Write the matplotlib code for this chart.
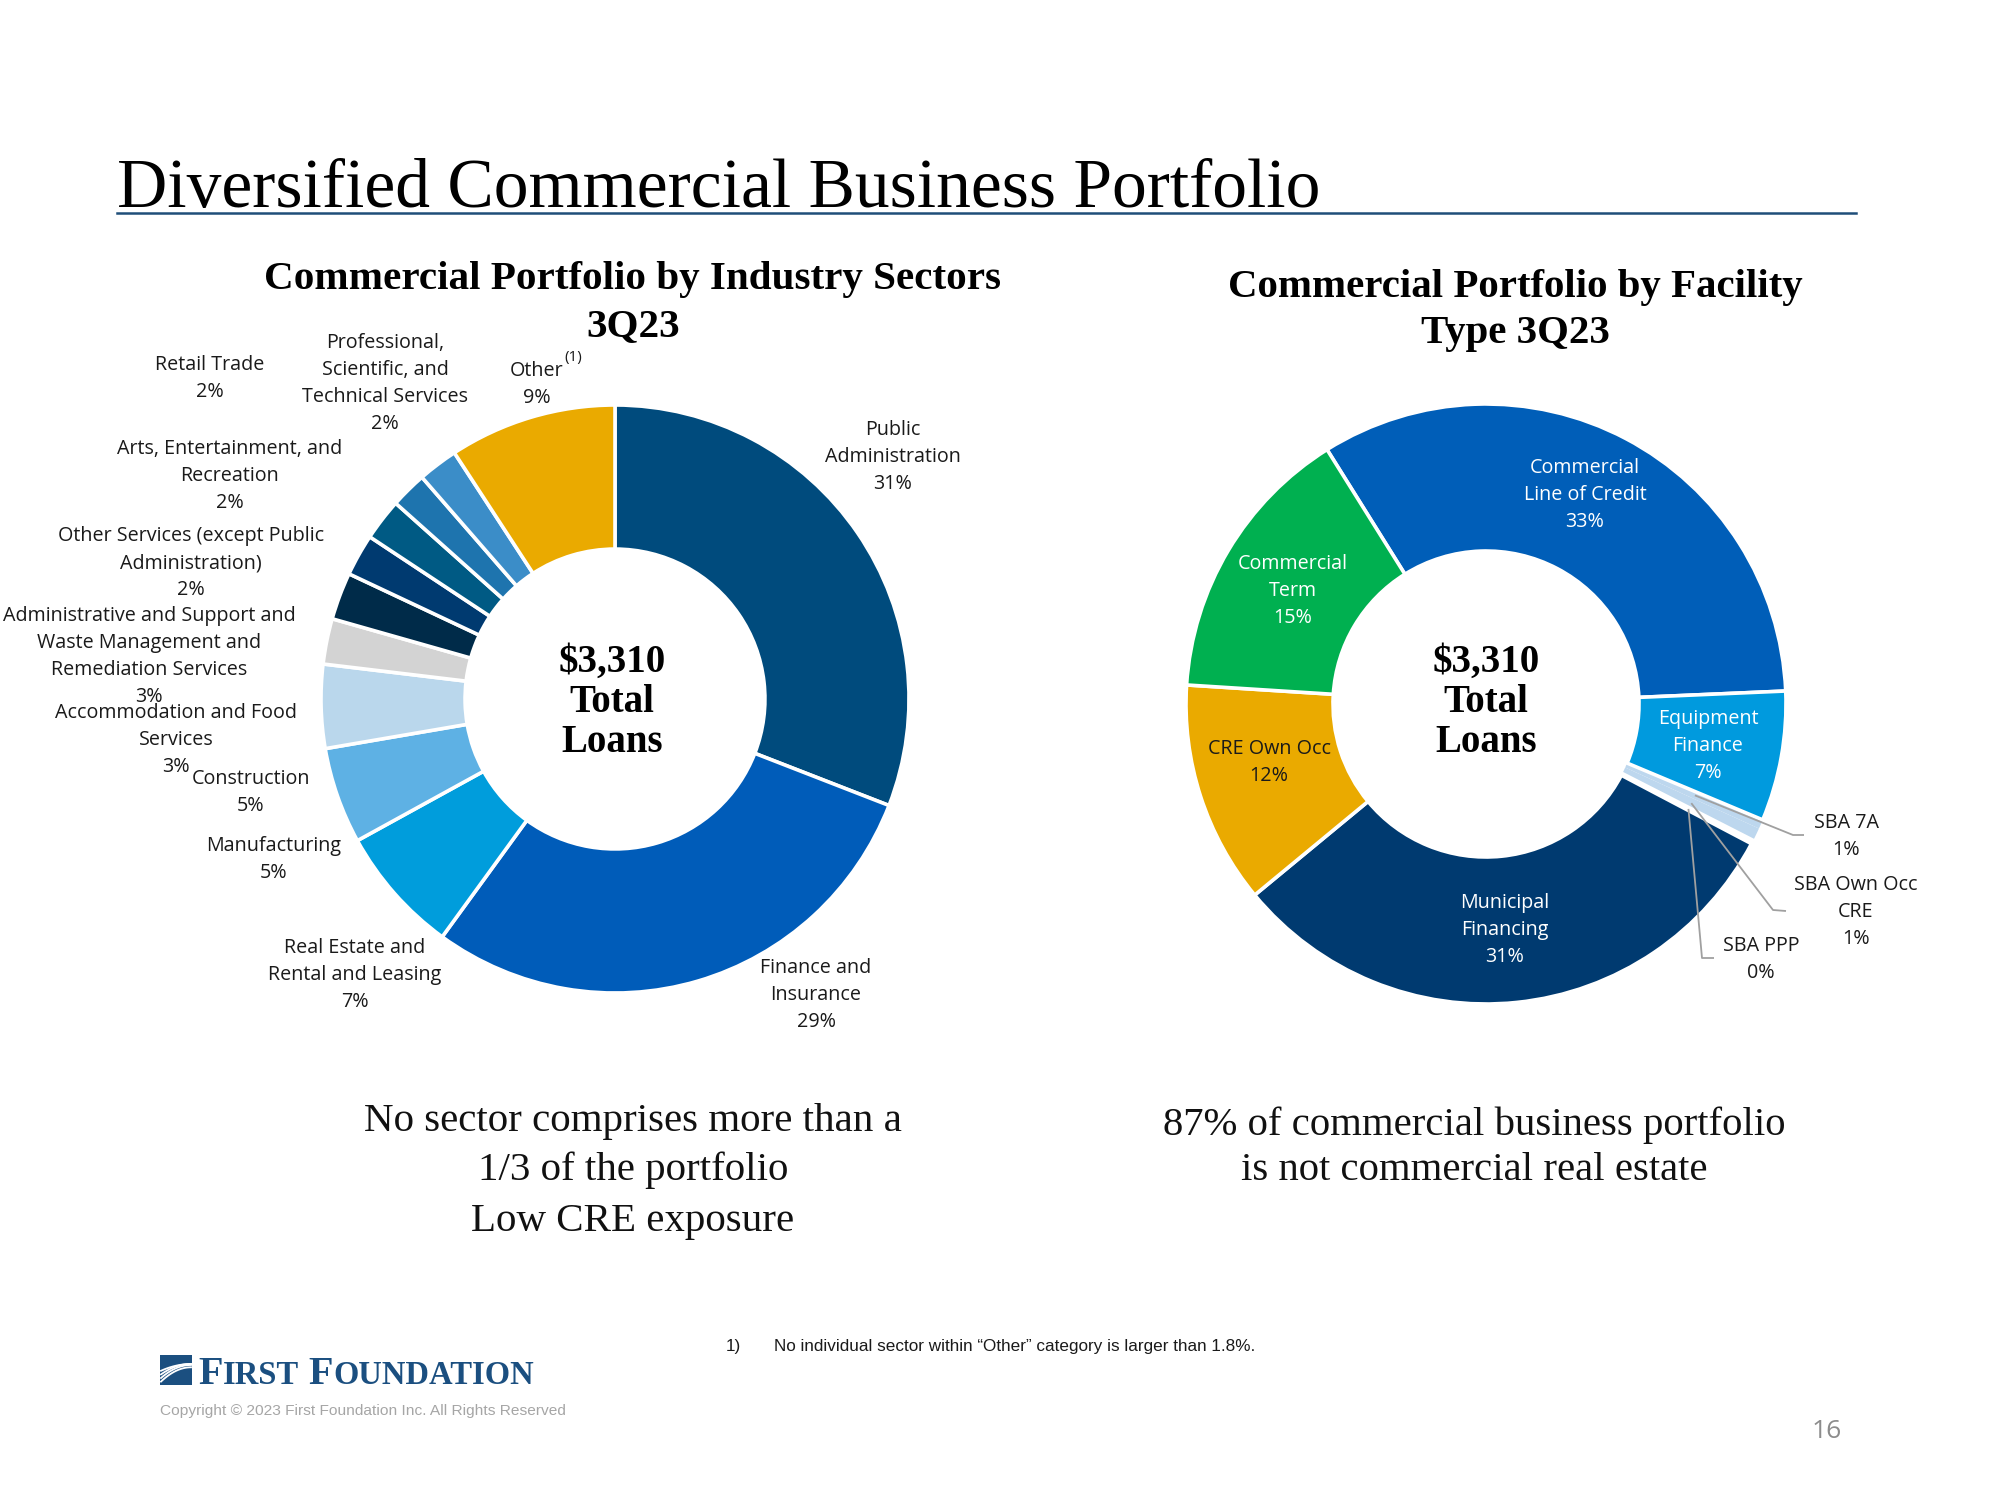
import numpy as np
import matplotlib.pyplot as plt
from matplotlib import font_manager
from matplotlib.patches import Rectangle

# ---- data ----
left_names = ["Public\nAdministration", "Finance and\nInsurance", "Real Estate and\nRental and Leasing",
              "Manufacturing", "Construction", "Accommodation and Food\nServices",
              "Administrative and Support and\nWaste Management and\nRemediation Services",
              "Other Services (except Public\nAdministration)", "Arts, Entertainment, and\nRecreation",
              "Retail Trade", "Professional,\nScientific, and\nTechnical Services", "Other"]
left_values = [30.9, 29.1, 7.0, 5.3, 4.6, 2.5, 2.6, 2.3, 2.3, 2.0, 2.2, 9.2]
left_pct = [31, 29, 7, 5, 5, 3, 3, 2, 2, 2, 2, 9]
left_colors = ["#004B7D", "#005CB9", "#009DDC", "#5EB1E4", "#BAD7EC", "#D3D3D3",
               "#002B49", "#003A70", "#005A84", "#1E74AE", "#3B8DC8", "#EAAA00"]

right_names = ["Commercial\nLine of Credit", "Equipment\nFinance", "SBA 7A", "SBA Own Occ\nCRE",
               "SBA PPP", "Municipal\nFinancing", "CRE Own Occ", "Commercial\nTerm"]
right_values = [33.2, 7.0, 0.5, 0.7, 0.2, 31.3, 12.0, 15.1]
right_pct = [33, 7, 1, 1, 0, 31, 12, 15]
right_colors = ["#005EB8", "#009ADE", "#BDD7EE", "#BDD7EE", "#FFFFFF", "#003A70", "#EAAA00", "#00B050"]

total_text = "$3,310\nTotal\nLoans"

# ---- layout (pixel coords, y measured from top) ----
W, H = 2000, 1500
left_c, left_r = (615, 699), 294
right_c, right_r = (1486, 704), 300

# label anchor (x, y of first line) for each wedge
left_pos = [(893, 430), (816, 968), (355, 948), (274, 846), (251, 779), (176, 713),
            (149, 616), (191, 536), (230, 449), (210, 365), (385, 343), (537, 371)]
right_pos = [(1585, 468), (1708, 719), (1846, 823), (1856, 885), (1761, 946),
             (1505, 903), (1269, 749), (1293, 564)]
right_txtcol = ["white", "white", "#1a1a1a", "#1a1a1a", "#1a1a1a", "white", "#1a1a1a", "white"]
# elbow / end points for leader lines of the SBA wedges
leaders = {2: [(1793, 835), (1804, 835)], 3: [(1773, 910), (1786, 911)], 4: [(1702, 958), (1714, 958)]}

fonts = {f.name for f in font_manager.fontManager.ttflist}
SANS = "Open Sans"
SERIF = "Liberation Serif"
NARROW = "Liberation Sans Narrow" if "Liberation Sans Narrow" in fonts else "Liberation Sans"
scale = 1.0 if NARROW == "Liberation Sans Narrow" else 0.82


def Y(y):
    return H - y


fig = plt.figure(figsize=(20, 15), dpi=100)
ax = fig.add_axes([0, 0, 1, 1])


def lines_at(x, y, text, size=14.2, color="#1a1a1a", step=27, family=SANS, **kw):
    for i, s in enumerate(text.split("\n")):
        ax.text(x, Y(y + i * step), s, ha="center", va="center", fontsize=size,
                color=color, family=family, **kw)


# ---- donuts ----
wl, _ = ax.pie(left_values, colors=left_colors, startangle=90, counterclock=False,
               center=(left_c[0], Y(left_c[1])), radius=left_r, frame=False,
               wedgeprops=dict(width=left_r * 0.49, edgecolor="white", linewidth=2.6))
wr, _ = ax.pie(right_values, colors=right_colors, startangle=122, counterclock=False,
               center=(right_c[0], Y(right_c[1])), radius=right_r, frame=False,
               wedgeprops=dict(width=right_r * 0.49, edgecolor="white", linewidth=2.6))
# the two SBA slices read as one light band
for i in (2, 3):
    wr[i].set_linewidth(0)
    wr[i].set_zorder(0.9)

ax.set_xlim(0, W)
ax.set_ylim(0, H)
ax.set_axis_off()

# wedge labels
for name, p, (x, y) in zip(left_names, left_pct, left_pos):
    lines_at(x, y, f"{name}\n{p}%")
ax.text(573, Y(358), "(1)", ha="center", va="center", fontsize=11, family=SANS, color="#1a1a1a")

for name, p, (x, y), c in zip(right_names, right_pct, right_pos, right_txtcol):
    lines_at(x, y, f"{name}\n{p}%", color=c)

for i, pts in leaders.items():
    w = wr[i]
    mid = np.deg2rad((w.theta1 + w.theta2) / 2)
    ax0 = w.center[0] + 0.76 * right_r * np.cos(mid)
    ay0 = w.center[1] + 0.76 * right_r * np.sin(mid)
    xs = [ax0] + [p[0] for p in pts]
    ys = [ay0] + [Y(p[1]) for p in pts]
    ax.plot(xs, ys, color="#A0A0A0", lw=1.3, solid_capstyle="butt", zorder=3)

# centre text
for (cx, cy) in [(612, 662), (1486, 662)]:
    lines_at(cx, cy, total_text, size=28, color="black", step=40, family=SERIF, weight="bold")

# ---- titles ----
ax.text(117, Y(207), "Diversified Commercial Business Portfolio", ha="left", va="baseline",
        fontsize=50, family=SERIF, color="black")
ax.plot([117, 1856], [Y(213), Y(213)], color="#1F4E79", lw=1.8)

lines_at(633, 279, "Commercial Portfolio by Industry Sectors\n3Q23", size=29.6, color="black",
         step=48, family=SERIF, weight="bold")
lines_at(1515, 287, "Commercial Portfolio by Facility\nType 3Q23", size=29.4, color="black",
         step=47, family=SERIF, weight="bold")

# ---- bottom notes ----
for s, y in zip(["No sector comprises more than a", "1/3 of the portfolio", "Low CRE exposure"],
                [1122, 1170, 1222]):
    lines_at(633, y, s, size=29.5, color="#111111", family=SERIF)
for s, y in zip(["87% of commercial business portfolio", "is not commercial real estate"], [1125, 1171]):
    lines_at(1474, y, s, size=29.3, color="#111111", family=SERIF)

ax.text(726, Y(1347), "1)", ha="left", va="center", fontsize=15 * scale, family=NARROW, color="#1a1a1a")
ax.text(774, Y(1347), "No individual sector within \u201cOther\u201d category is larger than 1.8%.",
        ha="left", va="center", fontsize=15 * scale, family=NARROW, color="#1a1a1a")

# ---- logo ----
logo_blue = "#1B4F80"
ax.add_patch(Rectangle((160, Y(1385)), 32, 30, color=logo_blue, lw=0))
t = np.linspace(0, 1, 30)
for k in range(4):
    off = 4 + k * 6
    xs = 161 + t * 30
    ys = Y(1384) + off * 0.6 + (30 - off) * (1 - (1 - t) ** 2) * (0.55 + 0.1 * k)
    keep = ys < Y(1356)
    ax.plot(xs[keep], ys[keep], color="white", lw=1.3)

r = fig.canvas.get_renderer()
x = 198
for word in ["FIRST", "FOUNDATION"]:
    for part, size in [(word[0], 29), (word[1:], 23.5)]:
        tt = ax.text(x, Y(1384), part, ha="left", va="baseline", fontsize=size,
                     family=SERIF, weight="bold", color=logo_blue)
        x = tt.get_window_extent(renderer=r).x1 + 0.5
    x += 9

ax.text(160, Y(1411), "Copyright \u00a9 2023 First Foundation Inc. All Rights Reserved", ha="left",
        va="center", fontsize=13.6 * scale, family=NARROW, color="#A6A6A6")
ax.text(1827, Y(1431), "16", ha="center", va="center", fontsize=19, family=SANS, color="#8C8C8C")

fig.savefig("out.png", dpi=100, facecolor="white")
